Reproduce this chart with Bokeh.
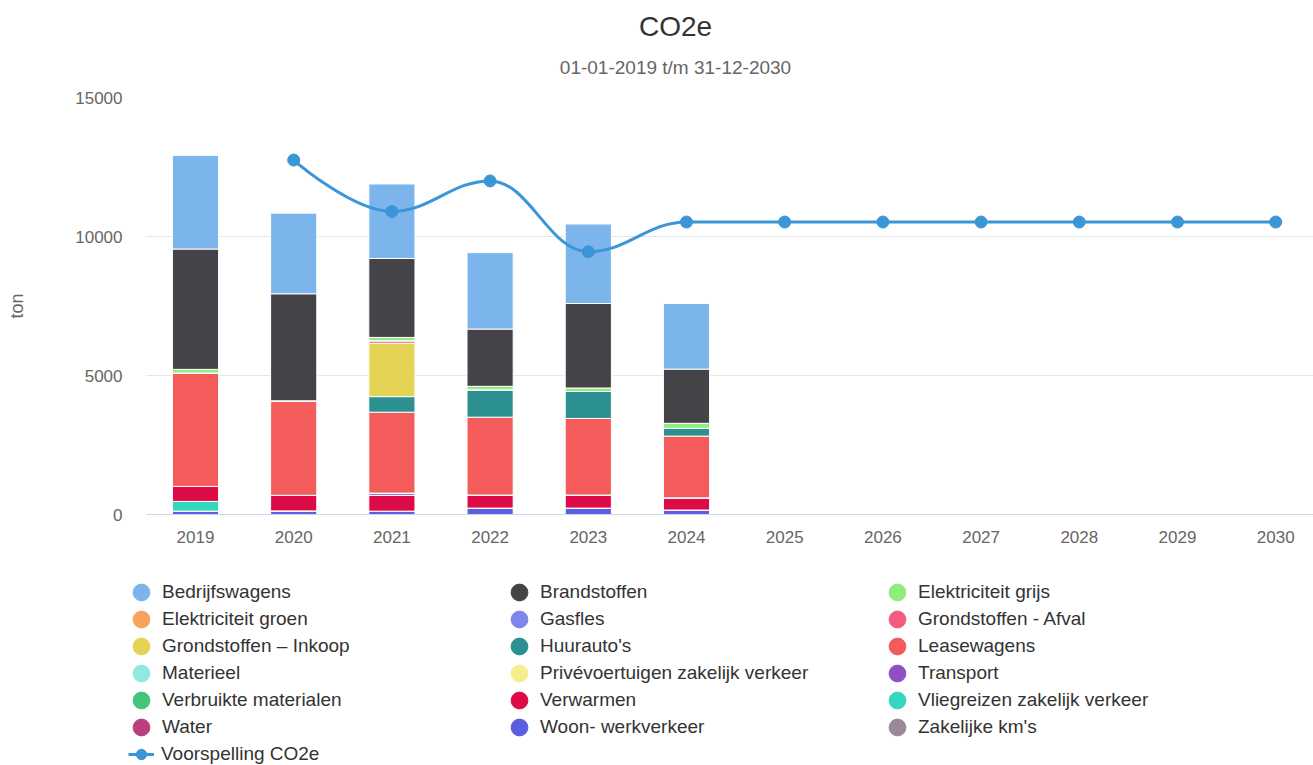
import numpy as np
from bokeh.plotting import figure
from bokeh.layouts import column
from bokeh.models import (ColumnDataSource, Range1d, FixedTicker, Legend, LegendItem, Label)
from bokeh.embed import file_html
from bokeh.resources import INLINE

# ---------------- data ----------------
years = [2019, 2020, 2021, 2022, 2023, 2024, 2025, 2026, 2027, 2028, 2029, 2030]
x_tick_labels = [str(y) for y in years]
y_ticks = [0, 5000, 10000, 15000]

title_text = "CO2e"
subtitle_text = "01-01-2019 t/m 31-12-2030"
y_axis_title = "ton"

series_names = [
    "Bedrijfswagens", "Brandstoffen", "Elektriciteit grijs",
    "Elektriciteit groen", "Gasfles", "Grondstoffen - Afval",
    "Grondstoffen \u2013 Inkoop", "Huurauto's", "Leasewagens",
    "Materieel", "Priv\u00e9voertuigen zakelijk verkeer", "Transport",
    "Verbruikte materialen", "Verwarmen", "Vliegreizen zakelijk verkeer",
    "Water", "Woon- werkverkeer", "Zakelijke km's",
]
series_colors = [
    "#7cb5ec", "#434348", "#90ed7d",
    "#f7a35c", "#8085e9", "#f15c80",
    "#e4d354", "#2b908f", "#f45b5b",
    "#91e8e1", "#f3ef8c", "#8f50c4",
    "#43c67c", "#dc0b48", "#35d6bf",
    "#bb3f7d", "#5b5de2", "#9b8898",
]

# values per year 2019..2024 (ton CO2e)
bedrijfswagens = [3370, 2900, 2680, 2750, 2860, 2360]
brandstoffen = [4330, 3850, 2840, 2060, 3040, 1950]
elektriciteit_grijs = [130, 0, 120, 125, 125, 180]
elektriciteit_groen = [0, 0, 0, 0, 0, 0]
gasfles = [0, 0, 0, 0, 0, 0]
grondstoffen_afval = [0, 0, 90, 0, 0, 0]
grondstoffen_inkoop = [0, 0, 1920, 0, 0, 0]
huurautos = [0, 0, 560, 985, 970, 280]
leasewagens = [4080, 3400, 2910, 2800, 2755, 2220]
materieel = [0, 0, 0, 0, 0, 0]
privevoertuigen = [0, 0, 0, 0, 0, 0]
transport = [0, 0, 80, 0, 0, 0]
verbruikte_materialen = [0, 0, 0, 0, 0, 0]
verwarmen = [540, 560, 570, 470, 470, 440]
vliegreizen = [350, 0, 0, 0, 0, 0]
water = [0, 0, 0, 0, 0, 0]
woon_werkverkeer = [120, 130, 120, 230, 230, 160]
zakelijke_kms = [0, 0, 0, 0, 0, 0]

forecast_name = "Voorspelling CO2e"
voorspelling = [None, 12750, 10900, 12000, 9450, 10520, 10520, 10520, 10520, 10520, 10520, 10520]

series_values = [
    bedrijfswagens, brandstoffen, elektriciteit_grijs, elektriciteit_groen, gasfles,
    grondstoffen_afval, grondstoffen_inkoop, huurautos, leasewagens, materieel,
    privevoertuigen, transport, verbruikte_materialen, verwarmen, vliegreizen,
    water, woon_werkverkeer, zakelijke_kms,
]

FONT = "Liberation Sans"
LINE_COLOR = "#3a96d6"
W = 1313

# ---------------- source ----------------
n_years = len(years)
data = {"year": np.array(years, dtype=float)}
keys = []
for i, vals in enumerate(series_values):
    arr = np.full(n_years, np.nan)
    arr[:len(vals)] = vals
    k = "s%d" % i
    data[k] = arr
    keys.append(k)
source = ColumnDataSource(data)


def blank_figure(height):
    f = figure(width=W, height=height, output_backend="svg", toolbar_location=None,
               title=None, x_range=Range1d(0, W), y_range=Range1d(0, height),
               x_axis_location=None, y_axis_location=None,
               min_border_left=0, min_border_right=0, min_border_top=0,
               min_border_bottom=0, frame_align=False)
    f.outline_line_color = None
    f.xgrid.grid_line_color = None
    f.ygrid.grid_line_color = None
    return f


# ---------------- title area ----------------
TH = 88
pt = blank_figure(TH)
pt.add_layout(Label(x=675, y=TH - 26, text=title_text,
                    text_align="center", text_baseline="middle", text_font=FONT,
                    text_font_size="28px", text_color="#333333"))
pt.add_layout(Label(x=675, y=TH - 67, text=subtitle_text,
                    text_align="center", text_baseline="middle", text_font=FONT,
                    text_font_size="19px", text_color="#666666"))

# ---------------- chart ----------------
p = figure(width=W, height=482, output_backend="svg", toolbar_location=None,
           title=None,
           x_range=Range1d(2018.501, 2030.385), y_range=Range1d(0, 15000),
           min_border_left=146, min_border_right=0, min_border_top=9,
           min_border_bottom=56, frame_align=False)
p.outline_line_color = None

order = list(range(len(keys)))[::-1]   # first series on top of the stack
p.vbar_stack([keys[i] for i in order], x="year", width=0.47, source=source,
             color=[series_colors[i] for i in order],
             line_color="white", line_width=1)

fx = [y for y, v in zip(years, voorspelling) if v is not None]
fy = [v for v in voorspelling if v is not None]


def spline_controls(xs, ys, smoothing=1.5):
    n = len(xs)
    denom = smoothing + 1
    left = [(xs[i], ys[i]) for i in range(n)]
    right = [(xs[i], ys[i]) for i in range(n)]
    for i in range(1, n - 1):
        x, y = xs[i], ys[i]
        lx, ly = xs[i - 1], ys[i - 1]
        nx, ny = xs[i + 1], ys[i + 1]
        lcx = (smoothing * x + lx) / denom
        lcy = (smoothing * y + ly) / denom
        rcx = (smoothing * x + nx) / denom
        rcy = (smoothing * y + ny) / denom
        if rcx != lcx:
            corr = ((rcy - lcy) * (rcx - x)) / (rcx - lcx) + y - rcy
            lcy += corr
            rcy += corr
        if lcy > ly and lcy > y:
            lcy = max(ly, y)
            rcy = 2 * y - lcy
        elif lcy < ly and lcy < y:
            lcy = min(ly, y)
            rcy = 2 * y - lcy
        if rcy > ny and rcy > y:
            rcy = max(ny, y)
            lcy = 2 * y - rcy
        elif rcy < ny and rcy < y:
            rcy = min(ny, y)
            lcy = 2 * y - rcy
        left[i] = (lcx, lcy)
        right[i] = (rcx, rcy)
    return left, right


left_c, right_c = spline_controls(fx, fy)
m = len(fx) - 1
bez = dict(x0=fx[:-1], y0=fy[:-1], x1=fx[1:], y1=fy[1:],
           cx0=[right_c[i][0] for i in range(m)],
           cy0=[right_c[i][1] for i in range(m)],
           cx1=[left_c[i + 1][0] for i in range(m)],
           cy1=[left_c[i + 1][1] for i in range(m)])
p.bezier(source=ColumnDataSource(bez), x0="x0", y0="y0", x1="x1", y1="y1",
         cx0="cx0", cy0="cy0", cx1="cx1", cy1="cy1",
         line_color=LINE_COLOR, line_width=3)
p.scatter(x=fx, y=fy, size=12, marker="circle", fill_color=LINE_COLOR,
          line_color=LINE_COLOR)

p.xaxis.ticker = FixedTicker(ticks=years)
p.xaxis.major_label_overrides = {y: s for y, s in zip(years, x_tick_labels)}
p.xaxis.major_tick_line_color = None
p.xaxis.minor_tick_line_color = None
p.xaxis.major_tick_out = 0
p.xaxis.axis_line_color = "#ccd6eb"
p.xaxis.major_label_text_font = FONT
p.xaxis.major_label_text_font_size = "17px"
p.xaxis.major_label_text_color = "#666666"
p.xaxis.major_label_standoff = 16
p.xgrid.grid_line_color = None

p.yaxis.ticker = FixedTicker(ticks=y_ticks)
p.yaxis.major_tick_line_color = None
p.yaxis.minor_tick_line_color = None
p.yaxis.axis_line_color = None
p.yaxis.major_tick_out = 0
p.yaxis.major_label_standoff = 24
p.yaxis.major_label_text_font = FONT
p.yaxis.major_label_text_font_size = "17px"
p.yaxis.major_label_text_color = "#666666"
p.yaxis.axis_label = y_axis_title
p.yaxis.axis_label_text_font = FONT
p.yaxis.axis_label_text_font_size = "18px"
p.yaxis.axis_label_text_font_style = "normal"
p.yaxis.axis_label_text_color = "#666666"
p.yaxis.axis_label_standoff = 45
p.ygrid.grid_line_color = "#e6e6e6"
p.ygrid.grid_line_width = 1

# ---------------- legend area ----------------
LH = 195
pl = blank_figure(LH)
nan1 = np.array([np.nan])
items = []
for name, col in zip(series_names, series_colors):
    r = pl.scatter(x=nan1, y=nan1, marker="circle", fill_color=col, line_color=col)
    items.append(LegendItem(label=name, renderers=[r]))

# one legend per row (3 columns, row-major like the reference);
# marker size is 0.4 * glyph box -> 42px box gives ~18px dots
ROW_PITCH = 27
for k in range(0, len(items), 3):
    row = k // 3
    leg = Legend(items=items[k:k + 3], orientation="horizontal", ncols=3,
                 location=(120, 152 - ROW_PITCH * row),
                 glyph_width=42, glyph_height=42, label_height=22,
                 label_width=336, label_standoff=0, spacing=0,
                 padding=0, margin=0, border_line_color=None,
                 background_fill_alpha=0, label_text_font=FONT,
                 label_text_font_size="19px", label_text_color="#333333")
    pl.add_layout(leg)

fl = pl.line(x=nan1, y=nan1, line_color=LINE_COLOR, line_width=3)
fm = pl.scatter(x=nan1, y=nan1, marker="circle", fill_color=LINE_COLOR,
                line_color=LINE_COLOR)
leg2 = Legend(items=[LegendItem(label=forecast_name, renderers=[fl, fm])],
              location=(128, -2), glyph_width=26, glyph_height=26,
              label_height=26, label_standoff=7, padding=0, margin=0,
              border_line_color=None, background_fill_alpha=0,
              label_text_font=FONT, label_text_font_size="19px",
              label_text_color="#333333")
pl.add_layout(leg2)

layout = column(pt, p, pl)
open("out.html", "w").write(file_html(layout, INLINE))
